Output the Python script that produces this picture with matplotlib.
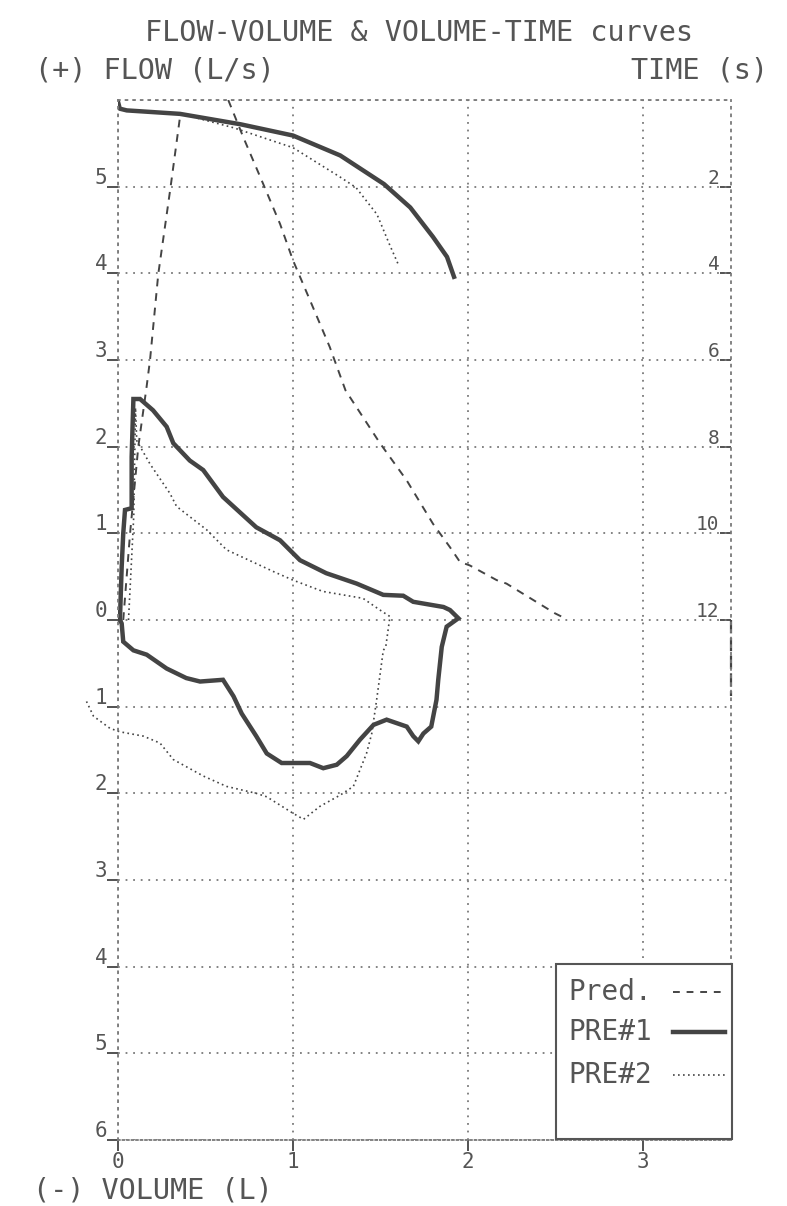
import matplotlib
matplotlib.use('Agg')

import matplotlib.pyplot as plt
from matplotlib.patches import Rectangle

# flow-volume curves: volume (L), flow (L/s)
pred_up_vol = [0.03, 0.069, 0.116, 0.164, 0.183, 0.23, 0.30, 0.354]
pred_up_flow = [0.0, 1.0, 2.0, 2.7, 3.0, 3.99, 4.99, 5.80]

pred_down_vol = [0.63, 0.716, 0.83, 0.926, 1.0, 1.097, 1.21, 1.30, 1.40, 1.497,
                 1.65, 1.80, 1.897, 1.954, 2.01, 2.164, 2.22, 2.497, 2.554]
pred_down_flow = [6.0, 5.57, 5.03, 4.57, 4.15, 3.69, 3.15, 2.65, 2.34, 2.04,
                  1.61, 1.11, 0.84, 0.67, 0.63, 0.46, 0.42, 0.077, 0.02]

pre1_vol = [0.011, 0.021, 0.03, 0.04, 0.078, 0.078, 0.088, 0.126, 0.20, 0.278,
            0.316, 0.41, 0.487, 0.60, 0.79, 0.926, 1.04, 1.19, 1.364, 1.516,
            1.63, 1.687, 1.86, 1.897, 1.945, 1.878, 1.85, 1.83, 1.82, 1.79,
            1.745, 1.716, 1.687, 1.65, 1.535, 1.46, 1.383, 1.307, 1.25, 1.173,
            1.097, 0.935, 0.85, 0.79, 0.707, 0.66, 0.60, 0.469, 0.39, 0.278,
            0.164, 0.088, 0.03, 0.021, 0.011]
pre1_flow = [0.0, 0.61, 1.0, 1.27, 1.29, 1.88, 2.55, 2.55, 2.42, 2.23,
             2.04, 1.84, 1.73, 1.42, 1.07, 0.92, 0.69, 0.54, 0.42, 0.29,
             0.28, 0.21, 0.15, 0.115, 0.02, -0.077, -0.31, -0.69, -0.92, -1.23,
             -1.31, -1.40, -1.34, -1.23, -1.15, -1.21, -1.38, -1.57, -1.67, -1.71,
             -1.65, -1.65, -1.54, -1.34, -1.08, -0.88, -0.69, -0.71, -0.67, -0.56,
             -0.40, -0.35, -0.25, -0.04, 0.0]

pre2_vol = [0.06, 0.09, 0.10, 0.107, 0.183, 0.297, 0.335, 0.507, 0.62, 0.887,
            1.0, 1.17, 1.40, 1.497, 1.554, 1.53, 1.516, 1.478, 1.45, 1.42,
            1.345, 1.27, 1.154, 1.06, 1.0, 0.85, 0.79, 0.62, 0.487, 0.316,
            0.24, 0.145, 0.011, -0.046, -0.14, -0.18]
pre2_flow = [0.0, 1.2, 2.45, 2.07, 1.80, 1.46, 1.31, 1.04, 0.81, 0.56,
             0.46, 0.33, 0.25, 0.115, 0.04, -0.31, -0.35, -0.92, -1.31, -1.54,
             -1.92, -2.02, -2.15, -2.30, -2.23, -2.04, -2.0, -1.92, -1.80, -1.61,
             -1.42, -1.34, -1.29, -1.25, -1.11, -0.94]

# volume-time curves: volume (L), time (s), time runs downward from the top
pre1_vt_vol = [0.0, 0.01, 0.05, 0.354, 0.70, 1.0, 1.27, 1.52, 1.67, 1.80, 1.88, 1.92]
pre1_vt_time = [0.04, 0.20, 0.24, 0.32, 0.56, 0.82, 1.28, 1.94, 2.48, 3.16, 3.62, 4.08]

pre2_vt_vol = [0.40, 0.66, 1.0, 1.27, 1.36, 1.48, 1.55, 1.60]
pre2_vt_time = [0.36, 0.64, 1.10, 1.78, 2.02, 2.64, 3.32, 3.78]

end_vol = [3.5, 3.5]
end_flow = [0.0, -0.88]

flow_ticks = [-6, -5, -4, -3, -2, -1, 0, 1, 2, 3, 4, 5]
time_ticks = [2, 4, 6, 8, 10, 12]
vol_ticks = [0, 1, 2, 3]

INK = '#444444'
GRID = '#7a7a7a'
TXT = '#555555'
FONT = 'DejaVu Sans Mono'


def t2f(t):
    return 6 - t / 2.0


def f2t(f):
    return (6 - f) * 2.0


fig = plt.figure(figsize=(7.87, 12.06), dpi=100)
fig.patch.set_facecolor('white')
ax = fig.add_axes([118 / 787, 1 - 1140 / 1206, 612.5 / 787, 1040 / 1206])
ax.set_xlim(0, 3.5)
ax.set_ylim(-6, 6)

# grid and dotted frame
ax.set_xticks(vol_ticks)
ax.set_yticks(flow_ticks)
ax.set_yticks(range(-6, 7), minor=True)
ax.grid(True, which='major', linestyle=(0, (1, 3.2)), color=GRID, lw=1.3)
ax.grid(True, which='minor', axis='y', linestyle=(0, (1, 3.2)), color=GRID, lw=1.3)
for side in ['left', 'right', 'top']:
    ax.spines[side].set_linestyle((0, (1, 3.2)))
    ax.spines[side].set_color(GRID)
    ax.spines[side].set_linewidth(1.3)
ax.spines['bottom'].set_linestyle((0, (1, 1.5)))
ax.spines['bottom'].set_color(GRID)
ax.spines['bottom'].set_linewidth(1.3)

ax.tick_params(axis='y', which='major', direction='out', length=8, width=1.3,
               color=INK, labelleft=False)
ax.tick_params(axis='y', which='minor', length=0)
ax.tick_params(axis='x', direction='out', length=8, width=1.3, color=INK,
               labelsize=15, labelcolor=TXT, pad=1)
for lab in ax.get_xticklabels():
    lab.set_family(FONT)

ytr = ax.get_yaxis_transform()
for v in flow_ticks:
    ax.text(-0.017, v + 0.035, str(abs(v)), transform=ytr, ha='right', va='baseline',
            fontsize=15, family=FONT, color=TXT)

sec = ax.secondary_yaxis('right', functions=(f2t, t2f))
sec.set_yticks(time_ticks)
sec.tick_params(direction='in', length=8, width=1.3, color=INK, labelright=False)
sec.spines['right'].set_visible(False)
for t in time_ticks:
    ax.text(0.982, t2f(t) + 0.035, str(t), transform=ytr, ha='right', va='baseline',
            fontsize=14, family=FONT, color=TXT)

# curves
ax.plot(pred_up_vol, pred_up_flow, color=INK, lw=1.4, ls=(0, (4, 3.5)))
ax.plot(pred_down_vol, pred_down_flow, color=INK, lw=1.4, ls=(0, (4, 3.5)))
ax.plot(pre2_vol, pre2_flow, color=INK, lw=1.2, ls=(0, (1, 2)), clip_on=False)
ax.plot(pre2_vt_vol, [t2f(t) for t in pre2_vt_time], color=INK, lw=1.2, ls=(0, (1, 2)))
ax.plot(pre1_vol, pre1_flow, color=INK, lw=3.2, solid_joinstyle='miter')
ax.plot(pre1_vt_vol, [t2f(t) for t in pre1_vt_time], color=INK, lw=3.2)
ax.plot(end_vol, end_flow, color=INK, lw=1.6, ls=(0, (6, 2)), clip_on=False)

# legend box
ax.add_patch(Rectangle((0.715, 0.001), 0.287, 0.168, transform=ax.transAxes,
                       facecolor='white', edgecolor='#555555', lw=1.5, zorder=5,
                       clip_on=False))
leg_rows = [('Pred.', 0.142, (0, (3.5, 3.5)), 1.4),
            ('PRE#1', 0.104, '-', 3.2),
            ('PRE#2', 0.0625, (0, (1, 2)), 1.2)]
for name, yy, ls, lw in leg_rows:
    ax.text(0.735, yy, name, transform=ax.transAxes, ha='left', va='center',
            fontsize=20, family=FONT, color=TXT, zorder=6)
    ax.plot([0.906, 0.991], [yy, yy], transform=ax.transAxes, color=INK, lw=lw,
            ls=ls, zorder=6, clip_on=False)

# titles
fig.text(419 / 787, 1 - 33 / 1206, 'FLOW-VOLUME & VOLUME-TIME curves', ha='center',
         va='center', fontsize=20.5, family=FONT, color=TXT)
fig.text(35 / 787, 1 - 70 / 1206, '(+) FLOW (L/s)', ha='left', va='center',
         fontsize=20.5, family=FONT, color=TXT)
fig.text(768 / 787, 1 - 70 / 1206, 'TIME (s)', ha='right', va='center',
         fontsize=20.5, family=FONT, color=TXT)
fig.text(33 / 787, 1 - 1190 / 1206, '(-) VOLUME (L)', ha='left', va='center',
         fontsize=20.5, family=FONT, color=TXT)

fig.savefig('out.png', dpi=100, facecolor='white')
